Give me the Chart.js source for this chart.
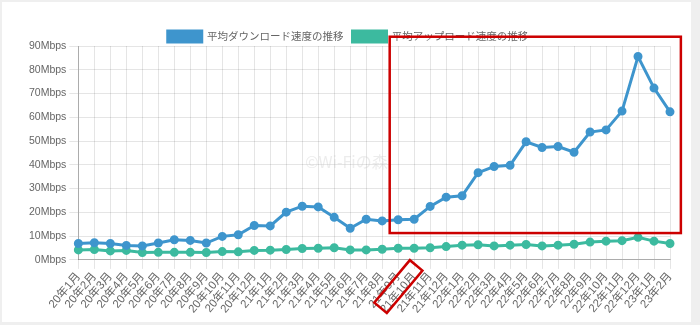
<!DOCTYPE html>
<html>
<head>
<meta charset="utf-8">
<script src="https://cdn.jsdelivr.net/npm/chart.js@4"></script>
<style>
  html, body { margin: 0; padding: 0; background: #efefef; }
  #wrap { position: absolute; left: 2px; top: 2px; width: 689px; height: 320px; background: #fff; }
</style>
</head>
<body>
<div id="wrap"><canvas id="myChart"></canvas></div>
<script>
const months = ['20年1月','20年2月','20年3月','20年4月','20年5月','20年6月','20年7月','20年8月','20年9月','20年10月','20年11月','20年12月',
  '21年1月','21年2月','21年3月','21年4月','21年5月','21年6月','21年7月','21年8月','21年9月','21年10月','21年11月','21年12月',
  '22年1月','22年2月','22年3月','22年4月','22年5月','22年6月','22年7月','22年8月','22年9月','22年10月','22年11月','22年12月',
  '23年1月','23年2月'];

const downloadSpeed = [6.9, 7.2, 6.9, 6.1, 5.9, 7.1, 8.5, 8.2, 7.1, 9.9, 10.6, 14.5,
  14.3, 20.1, 22.6, 22.3, 17.9, 13.3, 17.1, 16.4, 16.9, 17.1, 22.5, 26.4,
  27.0, 36.7, 39.3, 39.8, 49.7, 47.3, 47.7, 45.3, 53.8, 54.7, 62.6, 85.6,
  72.3, 62.3];

const uploadSpeed = [4.2, 4.4, 3.8, 4.0, 3.1, 3.2, 3.2, 3.2, 3.1, 3.5, 3.4, 4.0,
  4.1, 4.4, 4.8, 4.9, 5.1, 4.2, 4.2, 4.5, 4.9, 4.9, 5.1, 5.6,
  6.2, 6.4, 5.9, 6.2, 6.5, 5.9, 6.2, 6.6, 7.5, 7.9, 8.1, 9.5,
  7.9, 6.9];

const seriesNames = ['平均ダウンロード速度の推移', '平均アップロード速度の推移'];

// red highlight + watermark drawn on top of the chart
const markup = {
  id: 'markup',
  afterLayout(chart) {
    // legend sits a bit lower in the original
    chart.legend.top += 6;
    chart.legend.bottom += 6;
  },
  afterDraw(chart) {
    const c = chart.ctx;
    const x = chart.scales.x, y = chart.scales.y;
    c.save();
    // watermark
    c.font = '16px "Noto Sans CJK JP", sans-serif';
    c.fillStyle = 'rgba(200,200,200,0.35)';
    c.textAlign = 'center';
    c.textBaseline = 'middle';
    c.fillText('©Wi-Fiの森', chart.width / 2, chart.height / 2);
    // rectangle around the growth period
    c.strokeStyle = '#cc0000';
    c.lineWidth = 2.5;
    const l = x.getPixelForValue(19.47), r = x.getPixelForValue(37.68);
    const t = y.getPixelForValue(93.9), b = y.getPixelForValue(11.3);
    c.strokeRect(l, t, r - l, b - t);
    // box around the 21年10月 label
    const tx = x.getPixelForValue(21);
    c.translate(tx - 15.8, y.bottom + 26.7);
    c.rotate(-50 * Math.PI / 180);
    c.strokeRect(-27.7, -8.2, 55.4, 16.4);
    c.restore();
  }
};

const ctx = document.getElementById('myChart');
new Chart(ctx, {
  type: 'line',
  data: {
    labels: months,
    datasets: [
      {
        label: seriesNames[0],
        data: downloadSpeed,
        borderColor: '#3e95cd',
        backgroundColor: '#3e95cd',
        borderWidth: 3,
        pointRadius: 3,
        fill: false,
        tension: 0
      },
      {
        label: seriesNames[1],
        data: uploadSpeed,
        borderColor: '#3cba9f',
        backgroundColor: '#3cba9f',
        borderWidth: 3,
        pointRadius: 3,
        fill: false,
        tension: 0
      }
    ]
  },
  options: {
    responsive: true,
    maintainAspectRatio: false,
    animation: false,
    layout: { padding: { top: 14, right: 21, left: 24, bottom: 5 } },
    plugins: {
      legend: {
        labels: {
          boxWidth: 34,
          boxHeight: 11,
          padding: 9,
          color: '#666',
          font: { size: 10.5, family: '"Noto Sans CJK JP", sans-serif' }
        }
      },
      tooltip: { enabled: false }
    },
    scales: {
      x: {
        grid: { color: 'rgba(0,0,0,0.1)', tickLength: 9 },
        border: { color: 'rgba(0,0,0,0.25)' },
        ticks: {
          color: '#666',
          autoSkip: false,
          maxRotation: 50,
          minRotation: 50,
          padding: 1,
          font: { size: 11.5, family: '"Liberation Sans", "Noto Sans CJK JP", sans-serif' }
        }
      },
      y: {
        min: 0,
        max: 90,
        grid: { color: 'rgba(0,0,0,0.1)', tickLength: 9 },
        border: { color: 'rgba(0,0,0,0.25)' },
        ticks: {
          stepSize: 10,
          color: '#666',
          font: { size: 10.5, family: '"Liberation Sans", sans-serif' },
          callback: v => v + 'Mbps'
        }
      }
    }
  },
  plugins: [markup]
});
</script>
</body>
</html>
